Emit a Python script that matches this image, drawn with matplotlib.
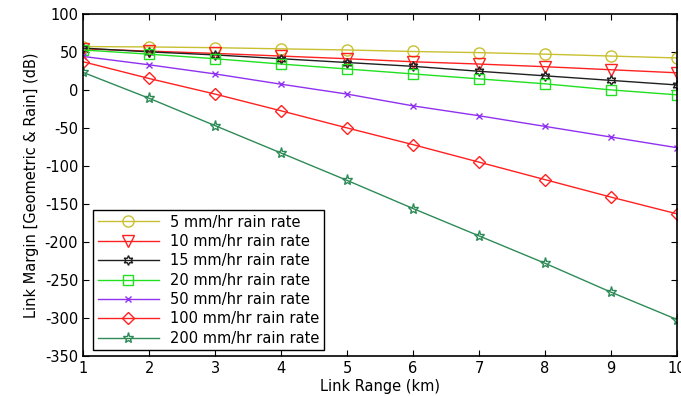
import matplotlib.pyplot as plt

plt.rcParams['font.family'] = ['DejaVu Sans']
plt.rcParams['axes.unicode_minus'] = False

link_range = [1, 2, 3, 4, 5, 6, 7, 8, 9, 10]

lm_5 = [57, 56.5, 55.5, 54, 52.5, 50.5, 49, 47, 44.5, 42]
lm_10 = [54, 51, 48, 44.5, 41, 37, 34, 30.5, 26.5, 22.5]
lm_15 = [55, 50, 46, 41, 36, 31, 24.5, 18.5, 12.5, 6.5]
lm_20 = [52.5, 47, 41, 34, 27.5, 21, 14.5, 8, 0, -6.5]
lm_50 = [44, 33, 21, 7.5, -5.5, -21, -34, -48, -62, -76]
lm_100 = [37, 15, -5.5, -27.5, -50, -72, -95, -118, -141, -163]
lm_200 = [23, -11, -47, -83, -119, -156, -192, -228, -266, -302]

# serie: (dane, etykieta, kolor, marker)
serie = [
    (lm_5, "5 mm/hr rain rate", "#c8c030", "o"),
    (lm_10, "10 mm/hr rain rate", "#ff2020", "v"),
    (lm_15, "15 mm/hr rain rate", "#202020", (6, 1, 0)),
    (lm_20, "20 mm/hr rain rate", "#20e020", "s"),
    (lm_50, "50 mm/hr rain rate", "#9030f0", "x"),
    (lm_100, "100 mm/hr rain rate", "#ff2020", "D"),
    (lm_200, "200 mm/hr rain rate", "#2e8b57", "*"),
]
rozmiary = [8, 8, 7, 7.5, 5, 6.5, 8]

fig = plt.figure(figsize=(6.81, 3.96), dpi=100)
ax = fig.add_axes([0.122, 0.101, 0.872, 0.864])

for (dane, etykieta, kolor, marker), ms in zip(serie, rozmiary):
    ax.plot(link_range, dane, color=kolor, marker=marker, markersize=ms,
            markerfacecolor="none", markeredgecolor=kolor, linewidth=1,
            label=etykieta)

ax.set_xlim(1, 10)
ax.set_ylim(-350, 100)
ax.set_xticks(range(1, 11))
ax.set_yticks(range(-350, 101, 50))
ax.tick_params(direction="in", top=True, right=True, labelsize=10.5, length=4)
for s in ax.spines.values():
    s.set_linewidth(1.2)

ax.set_xlabel("Link Range (km)", fontsize=10.5, labelpad=2)
ax.set_ylabel("Link Margin [Geometric & Rain] (dB)", fontsize=10.5, labelpad=4)

leg = ax.legend(loc="lower left", bbox_to_anchor=(0.017, 0.017), borderaxespad=0,
                fontsize=10.5, handlelength=4.2, fancybox=False, framealpha=1,
                labelspacing=0.3, borderpad=0.3)
leg.get_frame().set_edgecolor("black")
leg.get_frame().set_linewidth(1)

fig.savefig("out.png")
